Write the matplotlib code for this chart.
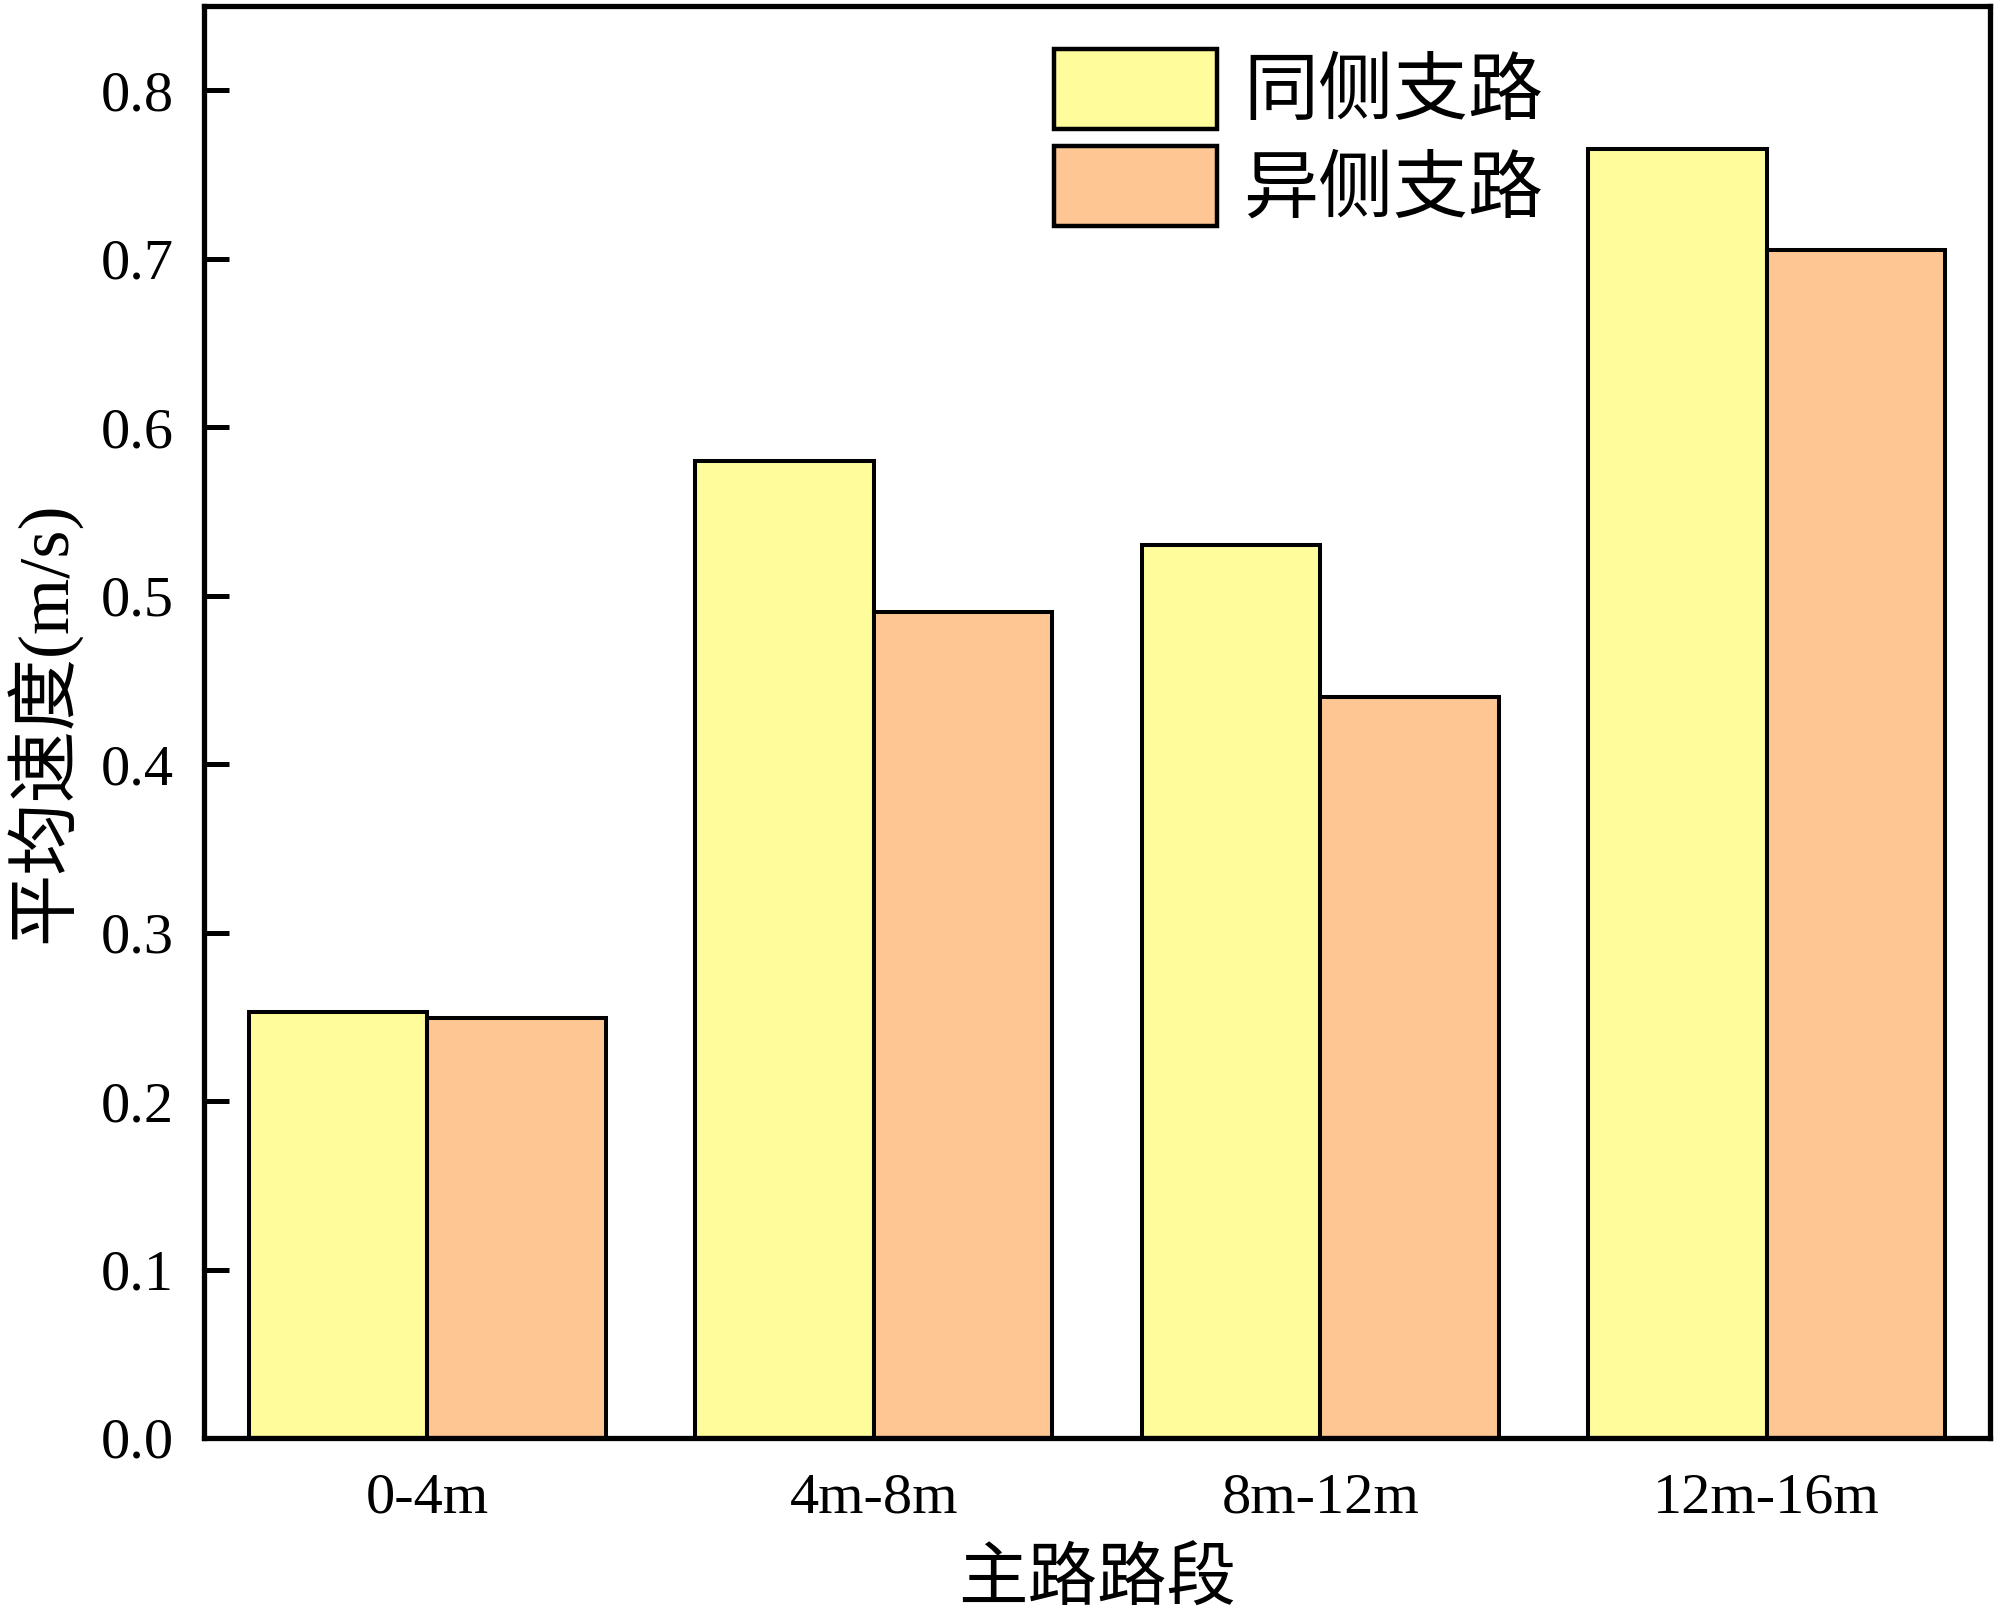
import matplotlib.pyplot as plt
import numpy as np

# data
segments = ['0-4m', '4m-8m', '8m-12m', '12m-16m']
same_side = [0.253, 0.580, 0.530, 0.765]
other_side = [0.249, 0.490, 0.440, 0.705]
series_names = ['同侧支路', '异侧支路']
yticks = [0.0, 0.1, 0.2, 0.3, 0.4, 0.5, 0.6, 0.7, 0.8]

cjk = ['Noto Sans CJK SC', 'DejaVu Sans']
mixed = ['Liberation Serif', 'Noto Sans CJK SC']

fig = plt.figure(figsize=(20, 16.23), dpi=100)
ax = fig.add_axes([0.102, 0.114, 0.893, 0.8823])

x = np.arange(len(segments))
w = 0.4
ax.bar(x - w / 2, same_side, w, color='#FFFC9C', edgecolor='black', linewidth=2.9,
       label=series_names[0], zorder=2)
ax.bar(x + w / 2, other_side, w, color='#FEC692', edgecolor='black', linewidth=2.9,
       label=series_names[1], zorder=2)

ax.set_xlim(-0.5, 3.5)
ax.set_ylim(0, 0.85)
ax.set_yticks(yticks)
ax.set_yticklabels([f'{v:.1f}' for v in yticks], family='Liberation Serif', fontsize=42)
ax.set_xticks(x)
ax.set_xticklabels(segments, family='Liberation Serif', fontsize=42)
ax.tick_params(axis='y', direction='in', length=18, width=3.6, pad=22)
ax.tick_params(axis='x', length=0, pad=25)

for s in ax.spines.values():
    s.set_linewidth(3.8)

ax.set_xlabel('主路路段', family=cjk, fontsize=50, labelpad=14)
ax.set_ylabel('平均速度(m/s)', family=mixed, fontsize=52, labelpad=14)

leg = ax.legend(loc='upper left', bbox_to_anchor=(0.508, 0.993),
                bbox_transform=fig.transFigure, frameon=False,
                prop={'family': cjk, 'size': 54}, borderpad=0,
                handlelength=2.18, handleheight=1.27, handletextpad=0.35,
                labelspacing=0.2)
for p in leg.get_patches():
    p.set_linewidth(3.2)

fig.savefig('out.png', dpi=100)
